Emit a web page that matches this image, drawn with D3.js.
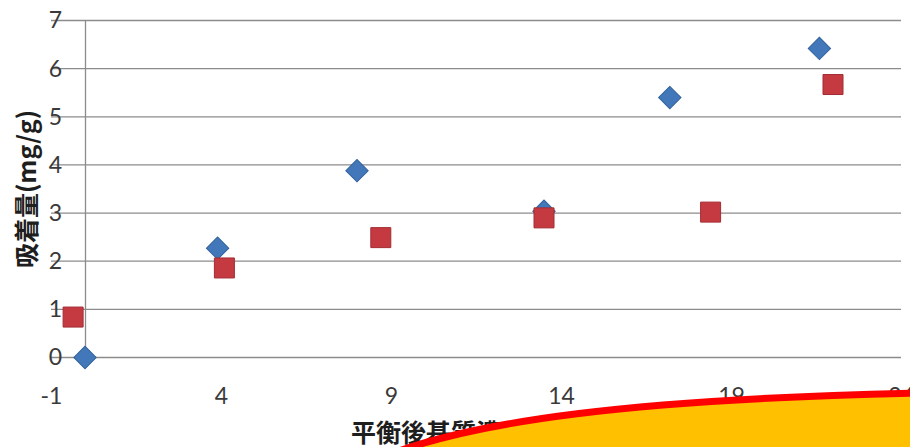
<!DOCTYPE html>
<html>
<head>
<meta charset="utf-8">
<script src="https://cdn.jsdelivr.net/npm/d3@7"></script>
<style>
  html, body { margin: 0; padding: 0; background: #fff; }
  svg { display: block; }
</style>
</head>
<body>
<svg id="chart" width="910" height="447"></svg>
<script>
// Equilibrium concentration (x) vs. adsorbed amount (y), two sample series
const seriesA_x = [0, 3.9, 8.0, 13.5, 17.2, 21.6];
const seriesA_y = [0, 2.27, 3.88, 3.04, 5.40, 6.42];
const seriesB_x = [-0.35, 4.1, 8.7, 13.5, 18.4, 22.0];
const seriesB_y = [0.84, 1.86, 2.49, 2.90, 3.02, 5.67];

const xTicks = [-1, 4, 9, 14, 19, 24];
const yTicks = [0, 1, 2, 3, 4, 5, 6, 7];

const yTitle = "吸着量(mg/g)";
const xTitle = "平衡後基質濃度(mg/L)";

const svg = d3.select("#chart");

const x = d3.scaleLinear().domain([-1, 24]).range([51, 901]);
const y = d3.scaleLinear().domain([0, 7]).range([357.5, 20.5]);

const numFont = "Lato, 'Open Sans', 'Liberation Sans', sans-serif";
const cjkFont = "'Noto Sans CJK JP', 'Noto Sans CJK SC', sans-serif";
const plain = d => String(d);

// horizontal gridlines
svg.append("g")
  .selectAll("line")
  .data(yTicks)
  .join("line")
  .attr("x1", x(-1)).attr("x2", x(24))
  .attr("y1", d => y(d)).attr("y2", d => y(d))
  .attr("stroke", "#8c8c8c")
  .attr("stroke-width", 1.3);

// vertical axis crossing at x = 0
const yAxis = d3.axisLeft(y).tickValues(yTicks).tickFormat(plain).tickSize(0).tickPadding(23);
const gy = svg.append("g").attr("transform", `translate(${x(0)},0)`).call(yAxis);
gy.select(".domain").attr("stroke", "#8c8c8c").attr("stroke-width", 1.3);
gy.selectAll("text")
  .attr("font-family", numFont)
  .attr("font-size", 23)
  .attr("fill", "#3a3a3a");

// horizontal axis labels along the bottom
const xAxis = d3.axisBottom(x).tickValues(xTicks).tickFormat(plain).tickSize(0).tickPadding(18);
const gx = svg.append("g").attr("transform", `translate(0,${y(0) + 12})`).call(xAxis);
gx.select(".domain").remove();
gx.selectAll("text")
  .attr("font-family", numFont)
  .attr("font-size", 23)
  .attr("fill", "#3a3a3a");

// axis titles
svg.append("text")
  .attr("transform", "translate(25,189) rotate(-90)")
  .attr("text-anchor", "middle")
  .attr("dominant-baseline", "central")
  .attr("font-family", cjkFont)
  .attr("font-weight", "bold")
  .attr("font-size", 25)
  .attr("fill", "#1e1e1e")
  .text(yTitle);

svg.append("text")
  .attr("x", 351)
  .attr("y", 442)
  .attr("text-anchor", "start")
  .attr("font-family", cjkFont)
  .attr("font-weight", "bold")
  .attr("font-size", 25)
  .attr("fill", "#1e1e1e")
  .text(xTitle);

const ptsA = seriesA_x.map((v, i) => [v, seriesA_y[i]]);
const ptsB = seriesB_x.map((v, i) => [v, seriesB_y[i]]);

// series A: diamonds
svg.append("g")
  .selectAll("path")
  .data(ptsA)
  .join("path")
  .attr("d", d3.symbol(d3.symbolSquare, 250)())
  .attr("transform", d => `translate(${x(d[0])},${y(d[1])}) rotate(45)`)
  .attr("fill", "#4278ba")
  .attr("stroke", "#33629c")
  .attr("stroke-width", 1);

// series B: squares
svg.append("g")
  .selectAll("path")
  .data(ptsB)
  .join("path")
  .attr("d", d3.symbol(d3.symbolSquare, 400)())
  .attr("transform", d => `translate(${x(d[0])},${y(d[1])})`)
  .attr("fill", "#c53a40")
  .attr("stroke", "#a32d33")
  .attr("stroke-width", 1);

// callout shape overlapping the lower right corner
svg.append("path")
  .attr("d", "M 362 466 C 462 418, 650 399, 918 393 L 918 466 Z")
  .attr("fill", "#ffc000")
  .attr("stroke", "#ff0000")
  .attr("stroke-width", 7);
</script>
</body>
</html>
